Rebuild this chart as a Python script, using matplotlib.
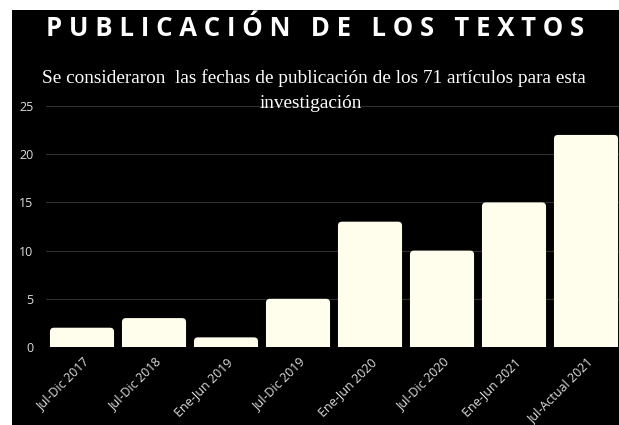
import matplotlib
matplotlib.use("Agg")
import matplotlib.pyplot as plt
from matplotlib.patches import Rectangle, FancyBboxPatch

categories = ["Jul-Dic 2017", "Jul-Dic 2018", "Ene-Jun 2019", "Jul-Dic 2019",
              "Ene-Jun 2020", "Jul-Dic 2020", "Ene-Jun 2021", "Jul-Actual 2021"]
values = [2, 3, 1, 5, 13, 10, 15, 22]
yticks = [0, 5, 10, 15, 20, 25]
title = "PUBLICACIÓN DE LOS TEXTOS"
subtitle_lines = ["Se consideraron  las fechas de publicación de los 71 artículos para esta",
                  "investigación"]

W, H = 619, 425
fig = plt.figure(figsize=(W / 100, H / 100), dpi=100, facecolor="white")
fig.patches.append(Rectangle((12 / W, 0), 1, 1 - 10 / H, transform=fig.transFigure,
                             facecolor="black", edgecolor="none", zorder=-10))

ax = fig.add_axes([46 / W, (H - 347) / H, 576 / W, 241 / H])
ax.set_facecolor("black")
ax.patch.set_alpha(0)

x = list(range(len(categories)))
bars = ax.bar(x, values, width=0.89, color="#FFFDEB")
ax.set_xlim(-0.5, len(categories) - 0.5)
ax.set_ylim(0, 25)

# rounded top corners
px_x = 576 / len(categories)
px_y = 241 / 25
r = 4 / px_x
for b in bars:
    b.set_visible(False)
    fb = FancyBboxPatch((b.get_x(), -1.0), b.get_width(), b.get_height() + 1.0,
                        boxstyle=f"round,pad=0,rounding_size={r}",
                        mutation_aspect=px_x / px_y,
                        facecolor="#FFFDEB", edgecolor="none", zorder=3,
                        clip_on=True)
    ax.add_patch(fb)
    fb.set_clip_path(ax.patch)

ax.set_yticks(yticks)
ax.set_xticks(x)
ax.set_xticklabels(categories, rotation=45, ha="right", rotation_mode="anchor",
                   fontfamily="Open Sans", fontsize=9, color="#DDDDDD")
ax.tick_params(axis="y", labelsize=9, colors="#DDDDDD", length=0, pad=9)
ax.tick_params(axis="x", length=0, pad=6)
for lab in ax.get_yticklabels():
    lab.set_fontfamily("Open Sans")
ax.grid(axis="y", color="#2E2E2E", linewidth=0.8, zorder=0)
ax.set_axisbelow(True)
for s in ax.spines.values():
    s.set_visible(False)

fig.text(315 / W, 1 - 28 / H, " ".join(title), ha="center", va="center",
         fontfamily="Open Sans", fontweight="bold", fontsize=18.5, color="white")
fig.text(314 / W, 1 - 78 / H, subtitle_lines[0], ha="center", va="center",
         fontfamily="Liberation Serif", fontsize=13.9, color="white")
fig.text(311 / W, 1 - 104 / H, subtitle_lines[1], ha="center", va="center",
         fontfamily="Liberation Serif", fontsize=13.9, color="white")

fig.savefig("out.png", dpi=100, facecolor="white")
